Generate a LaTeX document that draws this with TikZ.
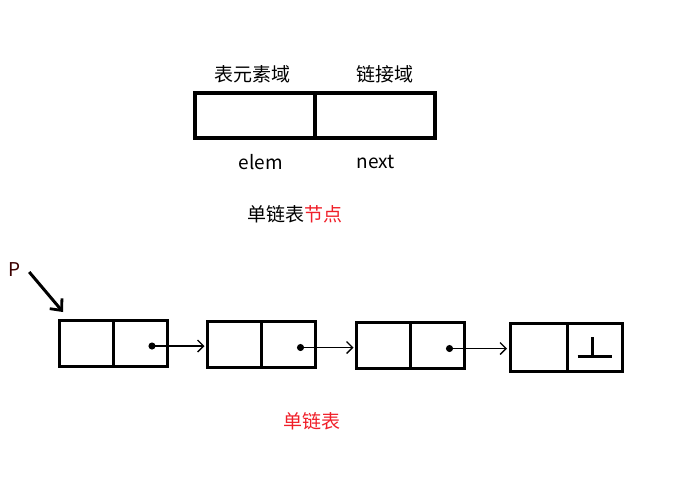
\documentclass[tikz,border=0pt]{standalone}
\usepackage{fontspec}
\newfontfamily\cjk{Noto Sans CJK SC}
\usetikzlibrary{positioning,arrows.meta,calc}
\definecolor{labelred}{RGB}{240,30,40}
\definecolor{pdark}{RGB}{60,0,0}

\begin{document}
\begin{tikzpicture}[x=1pt, y=-1pt,
    every node/.style={font=\cjk\fontsize{19}{21}\selectfont, inner sep=0pt},
    topcell/.style={draw, rectangle, line width=3.2pt, outer sep=0pt, minimum width=120pt, minimum height=45pt},
    cell/.style={draw, rectangle, line width=3pt, outer sep=0pt, minimum width=54pt, minimum height=46pt},
    ptr/.style={line width=1.5pt, {Circle[length=7pt]}-{Straight Barb[length=6pt,width=12pt,line width=1.3pt]}}]
    \useasboundingbox (0,0) rectangle (681,480);
                % node structure
                \node[topcell] (Elem) at (255,115.5) {};
                \node[topcell, right =0pt of Elem] (Next) {};
                \node (ElemTop) at (252,74) {表元素域};
                \node (NextTop) at (385,74) {链接域};
                \node (ElemBot) at (261,162) {elem};
                \node (NextBot) at (376,162) {next};
                \node (Title) at (295,214) {单链表\textcolor{labelred}{节点}};
                % list
                \node[cell] (A1) at (86,343) {};
                \node[cell, right =0pt of A1] (B1) {};
                \node[cell] (A2) at (234.5,344.5) {};
                \node[cell, right =0pt of A2] (B2) {};
                \node[cell] (A3) at (383.5,345.5) {};
                \node[cell, right =0pt of A3] (B3) {};
                \node[cell, minimum width=57pt, minimum height=48pt] (A4) at (538.5,347) {};
                \node[cell, minimum width=55pt, minimum height=48pt, right =0pt of A4] (B4) {};
                \node[text=labelred] (List) at (312,421) {单链表};
                \node[text=pdark] (P) at (15,270) {P};
                \foreach \u / \v in {1/2, 2/3, 3/4} {
                    \coordinate (D\u) at ($(B\u.center)+(8.5,3)$);
                    \draw[ptr] (D\u) -- ($(D\u -| A\v.west)+(-3,0)$);
                }
                \draw[line width=3pt, -{Straight Barb[length=9pt,width=16pt,line width=2.8pt]}] ([shift={(8,2)}]P.east) -- ([shift={(4,-8)}]A1.north west);
                \draw[line width=3pt] ($(B4.center)+(-2.5,-10)$) -- ($(B4.center)+(-2.5,9)$);
                \draw[line width=3pt] ($(B4.center)+(-17,9)$) -- ($(B4.center)+(17,9)$);
            \end{tikzpicture}
\end{document}
